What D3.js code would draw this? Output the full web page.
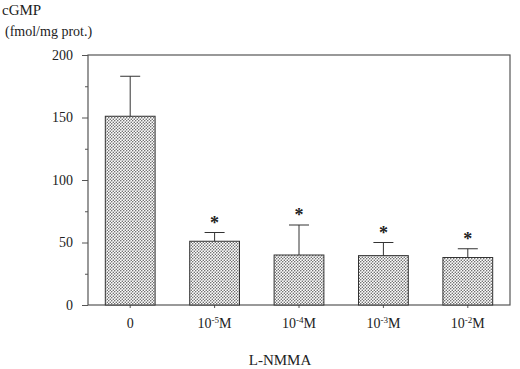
<!DOCTYPE html>
<html>
<head>
<meta charset="utf-8">
<script src="https://cdn.jsdelivr.net/npm/d3@7"></script>
<style>
  body { margin: 0; background: #fff; }
  svg text { font-family: "Liberation Serif", "DejaVu Serif", serif; fill: #222; }
</style>
</head>
<body>
<div class="barChart"></div>
<script>
const WIDTH = 520;
const HEIGHT = 369;
const LEFT = 88, RIGHT = 510, TOP = 55, BOTTOM = 305;

// data
var categories = ['0', '-5', '-4', '-3', '-2'];
var means = [151, 51, 40, 39.5, 38];
var errors = [32, 7, 24, 10.5, 7];
var significant = [false, true, true, true, true];
var yTicks = [0, 25, 50, 75, 100, 125, 150, 175, 200];
var yLabels = [0, 50, 100, 150, 200];

var xScale = d3.scaleBand().domain(categories).range([LEFT, RIGHT])
    .paddingInner(0.41).paddingOuter(0.205);
var yScale = d3.scaleLinear().domain([0, 200]).range([BOTTOM, TOP]);

var svg = d3.select('.barChart').append('svg')
    .attr('width', WIDTH)
    .attr('height', HEIGHT);

// stipple fill
var pat = svg.append('defs').append('pattern')
    .attr('id', 'dots')
    .attr('patternUnits', 'userSpaceOnUse')
    .attr('width', 3).attr('height', 3);
pat.append('rect').attr('width', 3).attr('height', 3).attr('fill', '#fff');
pat.append('circle').attr('cx', 0.75).attr('cy', 0.75).attr('r', 0.75).attr('fill', '#555');
pat.append('circle').attr('cx', 2.25).attr('cy', 2.25).attr('r', 0.75).attr('fill', '#555');

// frame
svg.append('rect')
    .attr('x', LEFT).attr('y', TOP)
    .attr('width', RIGHT - LEFT).attr('height', BOTTOM - TOP)
    .attr('fill', 'none').attr('stroke', '#555').attr('stroke-width', 1.2);

// y axis ticks
var yAxis = d3.axisLeft(yScale).tickValues(yTicks)
    .tickSize(5)
    .tickFormat(function (d) { return yLabels.indexOf(d) >= 0 ? d : ''; });
var yAxisG = svg.append('g').attr('transform', 'translate(' + LEFT + ',0)').call(yAxis);
yAxisG.select('.domain').remove();
yAxisG.selectAll('line').attr('stroke', '#555')
    .attr('x2', function (d) { return yLabels.indexOf(d) >= 0 ? -6 : -3; });
yAxisG.selectAll('text').attr('x', -15).style('font-size', '14px')
    .style('font-family', '"Liberation Serif", serif').attr('fill', '#222');

// x axis ticks
var xAxis = d3.axisBottom(xScale).tickSize(3).tickFormat('');
var xAxisG = svg.append('g').attr('transform', 'translate(0,' + BOTTOM + ')').call(xAxis);
xAxisG.select('.domain').remove();
xAxisG.selectAll('line').attr('stroke', '#555');

// x tick labels
var labels = svg.append('g').selectAll('text').data(categories).enter().append('text')
    .attr('x', function (d) { return xScale(d) + xScale.bandwidth() / 2; })
    .attr('y', 328)
    .attr('text-anchor', 'middle')
    .style('font-size', '14px');
labels.each(function (d) {
    var t = d3.select(this);
    if (d === '0') { t.text('0'); return; }
    t.append('tspan').text('10');
    t.append('tspan').text('-' + d.slice(1)).attr('dy', -5).style('font-size', '9px');
    t.append('tspan').text('M').attr('dy', 5);
});

// bars
svg.append('g').selectAll('rect').data(means).enter().append('rect')
    .attr('x', function (d, i) { return xScale(categories[i]); })
    .attr('y', function (d) { return yScale(d); })
    .attr('width', xScale.bandwidth())
    .attr('height', function (d) { return yScale(0) - yScale(d); })
    .attr('fill', 'url(#dots)')
    .attr('stroke', '#333').attr('stroke-width', 1);

// error bars
var eb = svg.append('g').selectAll('g').data(means).enter().append('g');
eb.append('line')
    .attr('x1', function (d, i) { return xScale(categories[i]) + xScale.bandwidth() / 2; })
    .attr('x2', function (d, i) { return xScale(categories[i]) + xScale.bandwidth() / 2; })
    .attr('y1', function (d) { return yScale(d); })
    .attr('y2', function (d, i) { return yScale(d + errors[i]); })
    .attr('stroke', '#333');
eb.append('line')
    .attr('x1', function (d, i) { return xScale(categories[i]) + xScale.bandwidth() / 2 - 10; })
    .attr('x2', function (d, i) { return xScale(categories[i]) + xScale.bandwidth() / 2 + 10; })
    .attr('y1', function (d, i) { return yScale(d + errors[i]); })
    .attr('y2', function (d, i) { return yScale(d + errors[i]); })
    .attr('stroke', '#333');

// significance stars
svg.append('g').selectAll('text').data(means).enter()
    .filter(function (d, i) { return significant[i]; })
    .append('text')
    .attr('x', function (d) { var i = means.indexOf(d); return xScale(categories[i]) + xScale.bandwidth() / 2; })
    .attr('y', function (d) { var i = means.indexOf(d); return yScale(d + errors[i]) - 4; })
    .attr('text-anchor', 'middle')
    .style('font-size', '18px').style('font-weight', 'bold')
    .text('*');

// titles
svg.append('text').attr('x', 2).attr('y', 15).style('font-size', '15px').text('cGMP');
svg.append('text').attr('x', 5).attr('y', 36).style('font-size', '14px').text('(fmol/mg prot.)');
svg.append('text').attr('x', 280).attr('y', 365).attr('text-anchor', 'middle')
    .style('font-size', '15px').text('L-NMMA');
</script>
</body>
</html>
